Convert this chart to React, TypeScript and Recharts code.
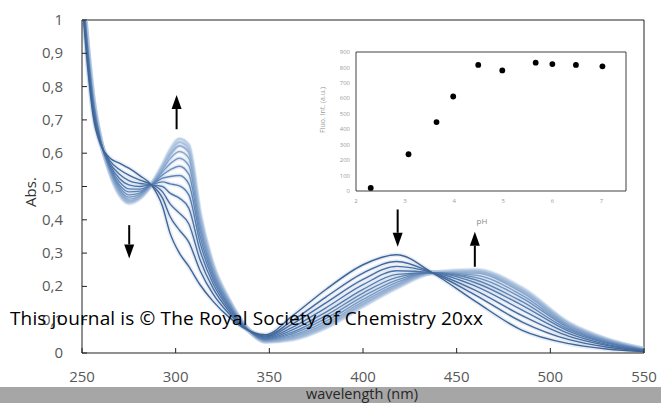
import React from 'react';
import {
  LineChart, Line, XAxis, YAxis, ReferenceLine,
  ScatterChart, Scatter,
} from 'recharts';

// ---- main spectra data ----
const wavelength = [250, 253, 256, 260, 265, 270, 275, 281, 287, 293, 297, 302, 307, 313, 320, 328, 338, 348, 362, 380, 400, 418, 437, 460, 485, 510, 530, 550];

const abs01 = [1.06, 0.86, 0.71, 0.625, 0.585, 0.57, 0.555, 0.532, 0.505, 0.44, 0.36, 0.30, 0.26, 0.205, 0.155, 0.11, 0.07, 0.055, 0.11, 0.19, 0.265, 0.295, 0.241, 0.155, 0.068, 0.028, 0.012, 0.004];
const abs02 = [1.072, 0.874, 0.722, 0.628, 0.576, 0.551, 0.534, 0.519, 0.505, 0.465, 0.41, 0.369, 0.333, 0.248, 0.177, 0.121, 0.071, 0.051, 0.096, 0.167, 0.24, 0.275, 0.241, 0.174, 0.093, 0.04, 0.018, 0.006];
const abs03 = [1.081, 0.885, 0.731, 0.63, 0.569, 0.537, 0.518, 0.509, 0.505, 0.484, 0.448, 0.42, 0.388, 0.28, 0.194, 0.129, 0.072, 0.048, 0.086, 0.15, 0.221, 0.26, 0.241, 0.188, 0.112, 0.05, 0.023, 0.007];
const abs04 = [1.089, 0.894, 0.739, 0.632, 0.563, 0.524, 0.505, 0.5, 0.505, 0.5, 0.48, 0.465, 0.435, 0.308, 0.208, 0.136, 0.072, 0.045, 0.076, 0.135, 0.205, 0.247, 0.241, 0.201, 0.129, 0.058, 0.026, 0.008];
const abs05 = [1.095, 0.901, 0.745, 0.634, 0.558, 0.514, 0.493, 0.492, 0.505, 0.514, 0.508, 0.502, 0.475, 0.332, 0.22, 0.142, 0.073, 0.043, 0.069, 0.122, 0.191, 0.236, 0.241, 0.211, 0.143, 0.065, 0.03, 0.009];
const abs06 = [1.101, 0.908, 0.751, 0.635, 0.554, 0.505, 0.484, 0.486, 0.505, 0.525, 0.53, 0.533, 0.508, 0.351, 0.23, 0.147, 0.073, 0.041, 0.062, 0.112, 0.18, 0.227, 0.241, 0.22, 0.154, 0.07, 0.032, 0.009];
const abs07 = [1.106, 0.913, 0.756, 0.636, 0.551, 0.498, 0.475, 0.481, 0.505, 0.535, 0.55, 0.561, 0.537, 0.368, 0.239, 0.152, 0.074, 0.039, 0.057, 0.103, 0.17, 0.219, 0.241, 0.227, 0.165, 0.075, 0.035, 0.01];
const abs08 = [1.11, 0.918, 0.76, 0.637, 0.548, 0.491, 0.468, 0.476, 0.505, 0.544, 0.568, 0.585, 0.563, 0.383, 0.246, 0.156, 0.074, 0.038, 0.052, 0.095, 0.161, 0.212, 0.241, 0.234, 0.173, 0.079, 0.037, 0.011];
const abs09 = [1.113, 0.922, 0.763, 0.638, 0.545, 0.485, 0.462, 0.472, 0.505, 0.551, 0.583, 0.605, 0.585, 0.396, 0.253, 0.159, 0.074, 0.036, 0.048, 0.088, 0.154, 0.206, 0.241, 0.24, 0.181, 0.083, 0.039, 0.011];
const abs10 = [1.116, 0.926, 0.766, 0.639, 0.543, 0.481, 0.456, 0.469, 0.505, 0.558, 0.595, 0.622, 0.603, 0.407, 0.258, 0.162, 0.075, 0.035, 0.044, 0.082, 0.147, 0.201, 0.241, 0.244, 0.187, 0.086, 0.04, 0.012];
const abs11 = [1.118, 0.928, 0.768, 0.64, 0.541, 0.478, 0.453, 0.467, 0.505, 0.561, 0.603, 0.633, 0.614, 0.414, 0.262, 0.163, 0.075, 0.035, 0.042, 0.078, 0.144, 0.198, 0.241, 0.247, 0.191, 0.088, 0.041, 0.012];
const abs12 = [1.12, 0.93, 0.77, 0.64, 0.54, 0.475, 0.45, 0.465, 0.505, 0.565, 0.61, 0.643, 0.625, 0.42, 0.265, 0.165, 0.075, 0.034, 0.04, 0.075, 0.14, 0.195, 0.241, 0.25, 0.195, 0.09, 0.042, 0.012];

const spectra = [abs01, abs02, abs03, abs04, abs05, abs06, abs07, abs08, abs09, abs10, abs11, abs12];
const lineColors = ['#3f6596', '#44699b', '#496fa1', '#4e75a8', '#557cae', '#5f85b5', '#6b8fbd', '#799ac5', '#88a6cc', '#9ab4d5', '#acc2dd', '#bccfe6'];

const xTicks = [250, 300, 350, 400, 450, 500, 550];
const yTicks = [0, 0.1, 0.2, 0.3, 0.4, 0.5, 0.6, 0.7, 0.8, 0.9, 1];

// arrows (wavelength, start abs, tip abs)
const arrows = [
  { wl: 300.5, from: 0.672, to: 0.775 },
  { wl: 275.2, from: 0.384, to: 0.284 },
  { wl: 418.5, from: 0.431, to: 0.319 },
  { wl: 459.7, from: 0.259, to: 0.364 },
];

// ---- inset data ----
const pH = [2.3, 3.07, 3.64, 3.98, 4.49, 4.98, 5.66, 6.0, 6.48, 7.02];
const fluo = [20, 238, 446, 612, 816, 781, 831, 822, 816, 807];
const insetXTicks = [2, 3, 4, 5, 6, 7];
const insetYTicks = [0, 100, 200, 300, 400, 500, 600, 700, 800, 900];

const FONT = "'Open Sans', sans-serif";

const rows = wavelength.map((wl, i) => {
  const r: any = { wl };
  spectra.forEach((s, k) => { r['c' + k] = s[i]; });
  return r;
});
const insetPoints = pH.map((p, i) => ({ ph: p, fluo: fluo[i] }));

const XTick = (props: any) => {
  const { x, y, payload } = props;
  return (
    <g>
      <line x1={x} x2={x} y1={y} y2={y - 5} stroke="#222" strokeWidth={1} />
      <text x={x} y={y + 29} textAnchor="middle" fontSize={15} fill="#595959" fontFamily={FONT}>{payload.value}</text>
    </g>
  );
};

const YTick = (props: any) => {
  const { x, y, payload } = props;
  return (
    <g>
      <line x1={x} x2={x + 5} y1={y} y2={y} stroke="#222" strokeWidth={1} />
      <text x={x - 19} y={y + 5} textAnchor="end" fontSize={15} fill="#595959" fontFamily={FONT}>{String(payload.value).replace('.', ',')}</text>
    </g>
  );
};

const ArrowShape = (props: any) => {
  const { x1, y1, x2, y2 } = props;
  const dir = y2 < y1 ? -1 : 1;
  const head = 14;
  const half = 5;
  const baseY = y2 - dir * head;
  return (
    <g>
      <line x1={x1} y1={y1} x2={x2} y2={baseY} stroke="#000" strokeWidth={2} />
      <polygon points={`${x2},${y2} ${x2 - half},${baseY} ${x2 + half},${baseY}`} fill="#000" />
    </g>
  );
};

const Dot = (props: any) => <circle cx={props.cx} cy={props.cy} r={2.9} fill="#000" />;

export default function App() {
  const order = spectra.map((_, k) => k).reverse();
  return (
    <div style={{ position: 'absolute', left: 0, top: 0, width: 661, height: 403, background: '#fff', overflow: 'hidden' }}>
      <div style={{ position: 'absolute', left: 0, top: 387, width: 661, height: 16, background: '#a6a6a6' }} />
      <div style={{ position: 'absolute', left: 0, top: 0 }}>
        <LineChart width={661} height={403} data={rows} margin={{ top: 20, right: 17, bottom: 20, left: 0 }}>
          <XAxis dataKey="wl" type="number" domain={[250, 550]} ticks={xTicks} height={30}
            tickSize={0} tickMargin={0} tickLine={false} axisLine={{ stroke: '#222' }} tick={<XTick />} interval={0} />
          <YAxis type="number" domain={[0, 1]} ticks={yTicks} width={82} allowDataOverflow
            tickSize={0} tickMargin={0} tickLine={false} axisLine={{ stroke: '#222' }} tick={<YTick />} interval={0} />
          <ReferenceLine y={1} stroke="#222" strokeWidth={1} />
          <ReferenceLine x={550} stroke="#222" strokeWidth={1} />
          {order.map((k) => (
            <Line key={'h' + k} dataKey={'c' + k} type="monotone" dot={false} activeDot={false}
              stroke="#a8bfdd" strokeWidth={4.5} strokeOpacity={0.28} isAnimationActive={false} />
          ))}
          {order.map((k) => (
            <Line key={'l' + k} dataKey={'c' + k} type="monotone" dot={false} activeDot={false}
              stroke={lineColors[k]} strokeWidth={k > 8 ? 2.2 : 1.4} isAnimationActive={false} />
          ))}
          {arrows.map((a, i) => (
            <ReferenceLine key={'a' + i} segment={[{ x: a.wl, y: a.from }, { x: a.wl, y: a.to }]}
              shape={<ArrowShape />} stroke="#000" />
          ))}
        </LineChart>
      </div>
      <div style={{ position: 'absolute', left: 316, top: 30 }}>
        <ScatterChart width={320} height={200} margin={{ top: 22, right: 10, bottom: 9, left: 10 }}>
          <XAxis dataKey="ph" type="number" domain={[2, 7.5]} ticks={insetXTicks} height={30}
            tickSize={0} tickMargin={8} tickLine={false} axisLine={{ stroke: '#404040' }}
            tick={{ fontSize: 6, fill: '#9a9a9a', fontFamily: FONT }} interval={0} />
          <YAxis dataKey="fluo" type="number" domain={[0, 900]} ticks={insetYTicks} width={30}
            tickSize={0} tickMargin={6} tickLine={false} axisLine={{ stroke: '#404040' }}
            tick={{ fontSize: 6, fill: '#9a9a9a', fontFamily: FONT }} interval={0} />
          <ReferenceLine y={900} stroke="#404040" />
          <ReferenceLine x={7.5} stroke="#404040" />
          <Scatter data={insetPoints} fill="#000" shape={<Dot />} isAnimationActive={false} />
        </ScatterChart>
      </div>
      <svg width={661} height={403} style={{ position: 'absolute', left: 0, top: 0, pointerEvents: 'none' }}>
        <text x={36} y={192} transform="rotate(-90 36 192)" textAnchor="middle" fontSize={15} fill="#333" fontFamily={FONT}>Abs.</text>
        <text x={362} y={399} textAnchor="middle" fontSize={14.5} fill="#262626" fontFamily={FONT}>wavelength (nm)</text>
        <text x={325} y={110} transform="rotate(-90 325 110)" textAnchor="middle" fontSize={7} fill="#9a9a9a" fontFamily={FONT}>Fluo. Int. (a.u.)</text>
        <text x={482} y={224} textAnchor="middle" fontSize={8} fill="#8a8a8a" fontFamily={FONT}>pH</text>
        <text x={10} y={325} fontSize={19} fill="#000" fontFamily={FONT} textLength={473} lengthAdjust="spacing">This journal is © The Royal Society of Chemistry 20xx</text>
      </svg>
    </div>
  );
}
